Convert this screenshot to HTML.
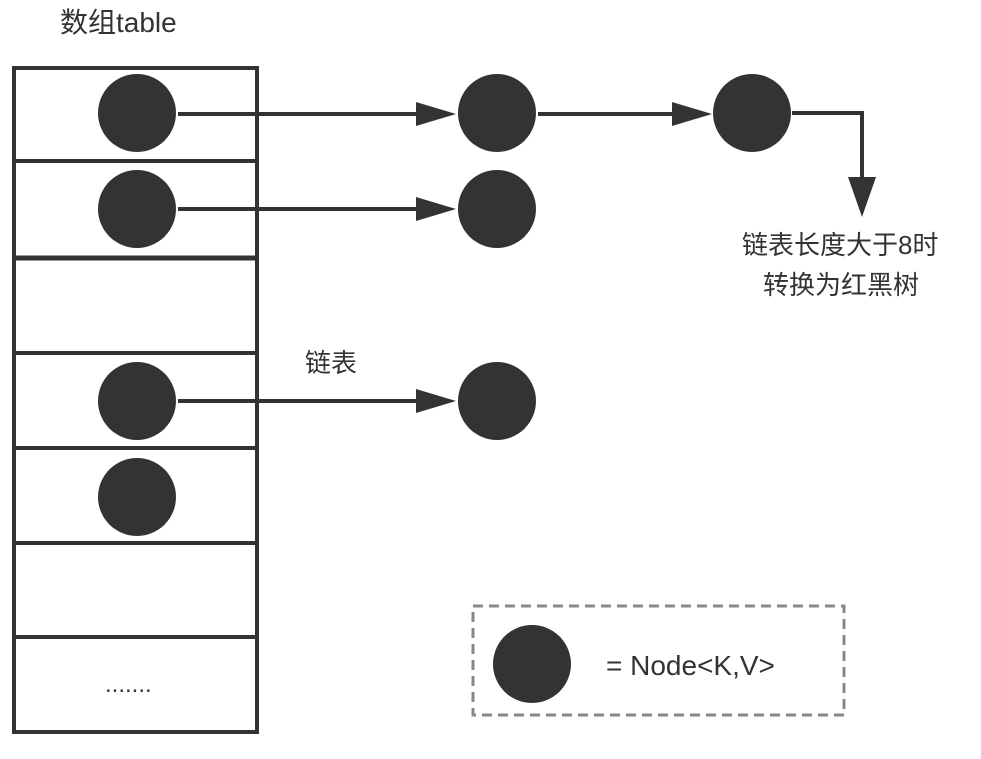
<!DOCTYPE html>
<html><head><meta charset="utf-8"><style>
html,body{margin:0;padding:0;background:#fff;}
svg text{font-family:"Liberation Sans","Noto Sans CJK SC",sans-serif;fill:#333;}
</style></head><body>
<svg width="981" height="754" viewBox="0 0 981 754" xmlns="http://www.w3.org/2000/svg">
<defs><marker id="a" markerWidth="10" markerHeight="10" refX="0" refY="0" orient="auto" overflow="visible"></marker></defs>
<text x="60" y="32" font-size="28">数组table</text>
<g stroke="#333" stroke-width="4" fill="none">
<rect x="14" y="68" width="243" height="664"/>
<line x1="14" y1="161" x2="257" y2="161"/>
<line x1="14" y1="258" x2="257" y2="258" stroke-width="5"/>
<line x1="14" y1="353" x2="257" y2="353"/>
<line x1="14" y1="448" x2="257" y2="448"/>
<line x1="14" y1="543" x2="257" y2="543"/>
<line x1="14" y1="637" x2="257" y2="637"/>
</g>
<g fill="#333">
<circle cx="137" cy="113" r="39"/>
<circle cx="137" cy="209" r="39"/>
<circle cx="137" cy="401" r="39"/>
<circle cx="137" cy="497" r="39"/>
<circle cx="497" cy="113" r="39"/>
<circle cx="497" cy="209" r="39"/>
<circle cx="497" cy="401" r="39"/>
<circle cx="752" cy="113" r="39"/>
<circle cx="532" cy="664" r="39"/>
</g>
<g stroke="#333" stroke-width="4" fill="none">
<line x1="178" y1="114" x2="420" y2="114"/>
<line x1="178" y1="209" x2="420" y2="209"/>
<line x1="178" y1="401" x2="420" y2="401"/>
<line x1="538" y1="114" x2="676" y2="114"/>
<polyline points="792,113 862,113 862,180"/>
</g>
<g fill="#333">
<polygon points="416,102 456,114 416,126"/>
<polygon points="416,197 456,209 416,221"/>
<polygon points="416,389 456,401 416,413"/>
<polygon points="672,102 712,114 672,126"/>
<polygon points="848,177 876,177 862,217"/>
</g>
<text x="742" y="254" font-size="26">链表长度大于8时</text>
<text x="763" y="294" font-size="26">转换为红黑树</text>
<text x="305" y="372" font-size="26">链表</text>
<text x="105" y="692" font-size="24">.......</text>
<rect x="473" y="606" width="371" height="109" fill="none" stroke="#888" stroke-width="3" stroke-dasharray="10,6"/>
<text x="606" y="675" font-size="28">= Node&lt;K,V&gt;</text>
</svg>
</body></html>
